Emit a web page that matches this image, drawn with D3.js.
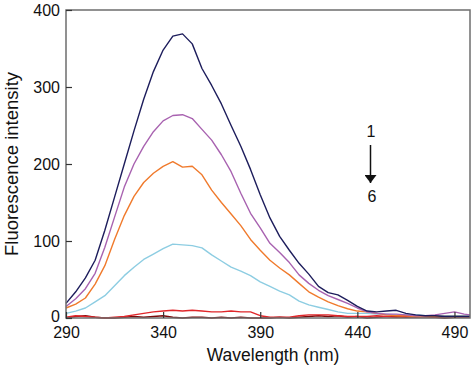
<!DOCTYPE html>
<html>
<head>
<meta charset="utf-8">
<script src="https://cdn.jsdelivr.net/npm/d3@7"></script>
<style>
  body { margin: 0; background: #fff; }
  text { font-family: "Liberation Sans", Arial, sans-serif; }
</style>
</head>
<body>
<script>
const wavelengths = [290, 295, 300, 305, 310, 315, 320, 325, 330, 335, 340, 345, 350, 355, 360, 365, 370, 375, 380, 385, 390, 395, 400, 405, 410, 415, 420, 425, 430, 435, 440, 445, 450, 455, 460, 465, 470, 475, 480, 485, 490, 495, 498]

const curve1 = [19, 34, 52, 75, 114, 157, 200, 243, 284, 320, 348, 366, 369, 356, 324, 302, 278, 250, 223, 193, 160, 130, 106, 88, 71, 57, 41, 33, 30, 23, 15, 9, 8, 9, 10, 6, 4, 3, 3, 2, 2, 2, 2]
const curve2 = [15, 25, 38, 58, 92, 131, 170, 200, 223, 242, 256, 263, 264, 259, 245, 231, 212, 190, 162, 136, 117, 97, 85, 72, 56, 45, 36, 29, 24, 19, 13, 8, 6, 5, 5, 4, 3, 3, 4, 6, 8, 5, 4]
const curve3 = [13, 18, 26, 44, 68, 102, 133, 158, 176, 188, 197, 203, 196, 197, 186, 166, 150, 135, 120, 102, 88, 75, 65, 56, 45, 34, 27, 21, 16, 12, 9, 8, 6, 4, 3, 3, 2, 2, 2, 2, 2, 2, 2]
const curve4 = [6, 9, 13, 21, 29, 42, 55, 66, 76, 83, 90, 96, 95, 94, 91, 82, 74, 66, 61, 55, 47, 41, 35, 30, 22, 17, 14, 11, 8, 6, 6, 6, 5, 5, 4, 4, 4, 3, 3, 3, 3, 3, 3]
const curve5 = [1, 3, 2, 1, 0, 1, 2, 4, 6, 8, 9, 10, 9, 10, 9, 8, 8, 9, 8, 8, 3, 1, 1, 1, 3, 4, 4, 4, 3, 2, 2, 2, 3, 2, 1, 2, 1, 2, 1, 2, 1, 1, 1]
const curve6 = [0, 2, 3, 1, 0, 0, 1, 2, 1, 2, 3, 1, 0, 1, 1, 0, 1, 0, 1, 0, 0, 0, 1, 0, 1, 2, 3, 2, 3, 1, 2, 0, 1, 2, 2, 1, 2, 2, 1, 0, 1, 2, 1]

const xTicks = [290, 340, 390, 440, 490]
const yTicks = [0, 100, 200, 300, 400]

const series = [
    { values: curve6, color: '#7a0a0a' },
    { values: curve5, color: '#e0262a' },
    { values: curve4, color: '#8dcde2' },
    { values: curve3, color: '#f07a2c' },
    { values: curve2, color: '#a862b0' },
    { values: curve1, color: '#1d1d5c' }
]

const width = 474, height = 378
const padLeft = 66, padRight = 470, padTop = 10, padBottom = 318

const svg = d3.select('body')
    .append('svg')
    .attr('width', width)
    .attr('height', height)

const x = d3.scaleLinear().domain([290, 498]).range([padLeft, padRight])
const y = d3.scaleLinear().domain([0, 400]).range([padBottom, padTop])

const line = d3.line()
    .x(function(d, i) { return x(wavelengths[i]) })
    .y(function(d) { return y(d) })

series.forEach(function(s) {
    svg.append('path')
        .attr('d', line(s.values))
        .attr('fill', 'none')
        .attr('stroke', s.color)
        .attr('stroke-width', 1.4)
        .attr('stroke-linejoin', 'round')
})

// frame
svg.append('rect')
    .attr('x', padLeft)
    .attr('y', padTop)
    .attr('width', padRight - padLeft)
    .attr('height', padBottom - padTop)
    .attr('fill', 'none')
    .attr('stroke', '#6e6e6e')
    .attr('stroke-width', 1.5)

const xAxis = svg.append('g')
    .attr('transform', 'translate(0,' + padBottom + ')')
    .call(d3.axisBottom(x).tickValues(xTicks).tickSizeInner(-6).tickSizeOuter(0).tickPadding(9))
xAxis.select('.domain').remove()

const yAxis = svg.append('g')
    .attr('transform', 'translate(' + padLeft + ',0)')
    .call(d3.axisLeft(y).tickValues(yTicks).tickSizeInner(-6).tickSizeOuter(0).tickPadding(6))
yAxis.select('.domain').remove()

svg.selectAll('.tick line').attr('stroke', '#333').attr('stroke-width', 1.2)
svg.selectAll('.tick text')
    .attr('font-size', 16)
    .attr('fill', '#111')
    .style('font-family', '"Liberation Sans", Arial, sans-serif')
// lift the "0" a little so it clears "290"
yAxis.selectAll('.tick text').filter(function(d) { return d === 0 }).attr('dy', '0.2em')

svg.append('text')
    .attr('x', 273)
    .attr('y', 361)
    .attr('text-anchor', 'middle')
    .attr('font-size', 17.5)
    .attr('fill', '#111')
    .text('Wavelength (nm)')

svg.append('text')
    .attr('transform', 'translate(18,164) rotate(-90)')
    .attr('text-anchor', 'middle')
    .attr('font-size', 18.5)
    .attr('fill', '#111')
    .text('Fluorescence intensity')

// order annotation
svg.append('defs').append('marker')
    .attr('id', 'head')
    .attr('viewBox', '0 0 10 10')
    .attr('refX', 10)
    .attr('refY', 5)
    .attr('markerWidth', 8)
    .attr('markerHeight', 12)
    .attr('markerUnits', 'userSpaceOnUse')
    .attr('orient', 'auto')
    .attr('preserveAspectRatio', 'none')
    .append('path')
    .attr('d', 'M0,0 L10,5 L0,10 Z')
    .attr('fill', '#111')

svg.append('text')
    .attr('x', 371)
    .attr('y', 137)
    .attr('text-anchor', 'middle')
    .attr('font-size', 16)
    .attr('fill', '#111')
    .text('1')

svg.append('line')
    .attr('x1', 370.5)
    .attr('x2', 370.5)
    .attr('y1', 145)
    .attr('y2', 183)
    .attr('stroke', '#111')
    .attr('stroke-width', 1.5)
    .attr('marker-end', 'url(#head)')

svg.append('text')
    .attr('x', 372)
    .attr('y', 202)
    .attr('text-anchor', 'middle')
    .attr('font-size', 16)
    .attr('fill', '#111')
    .text('6')
</script>
</body>
</html>
